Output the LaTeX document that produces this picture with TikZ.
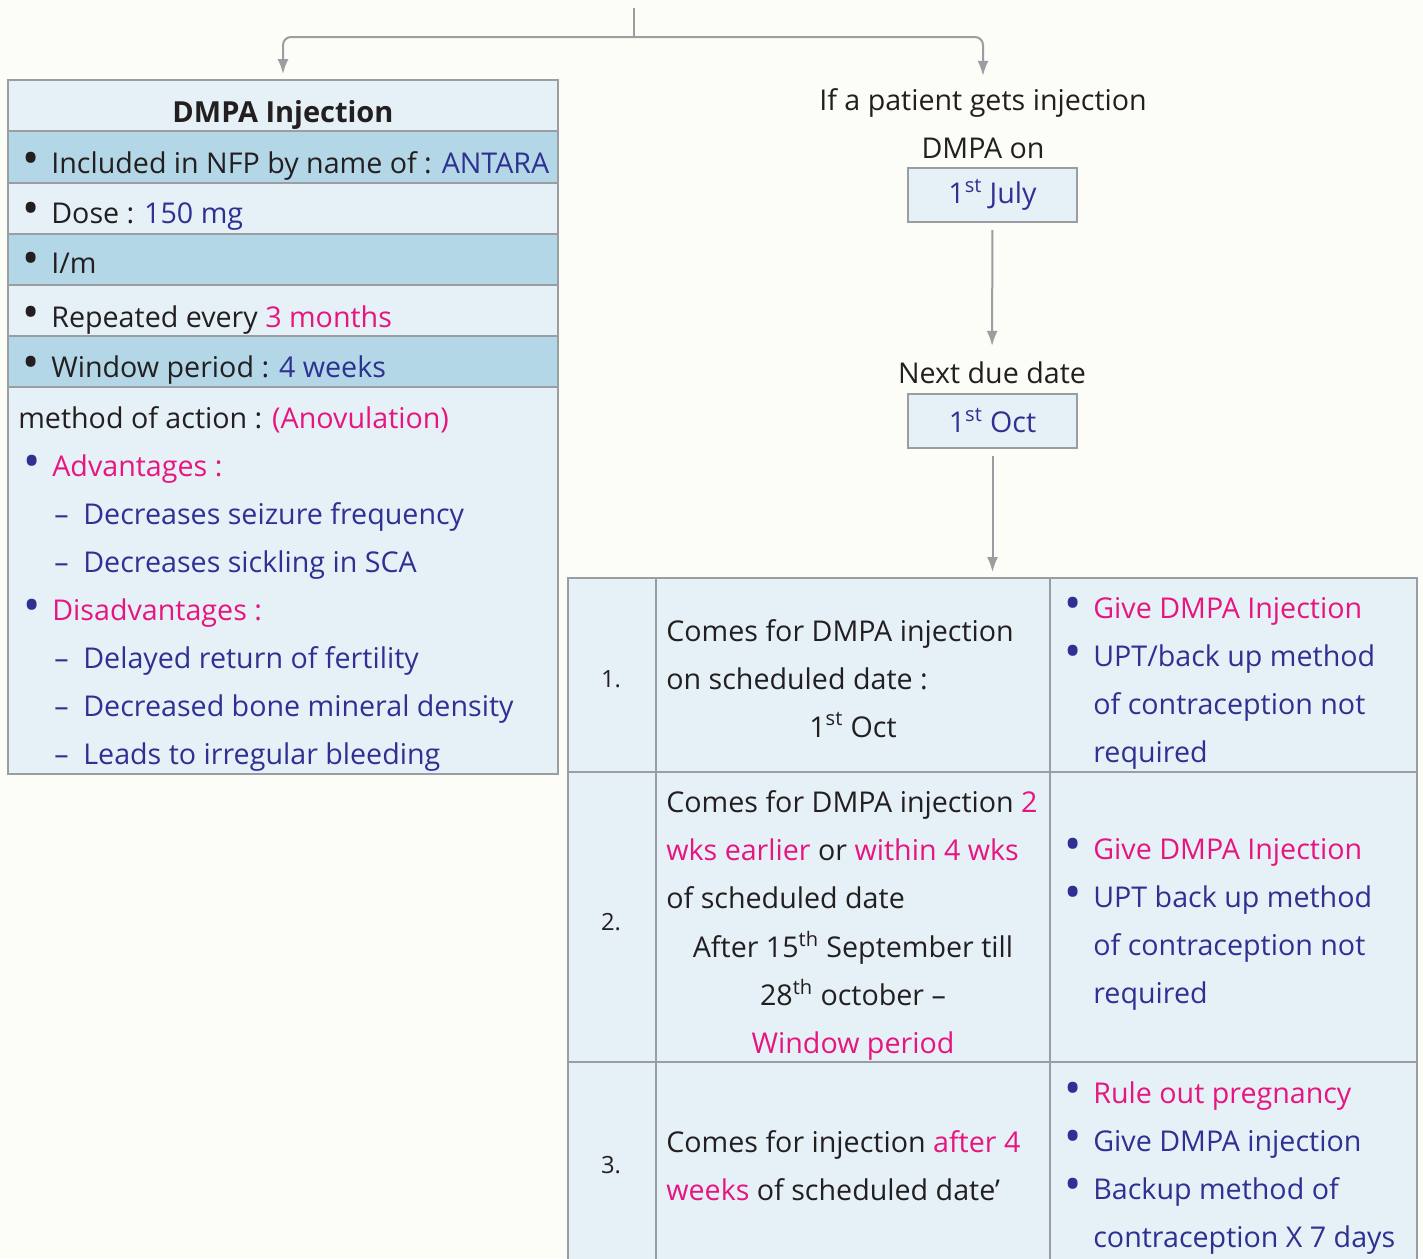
\documentclass[tikz,border=0pt]{standalone}
\usepackage{fontspec}
\setmainfont{Open Sans}
\usetikzlibrary{arrows.meta,positioning,calc}
\definecolor{cream}{HTML}{FDFDF7}
\definecolor{paleblue}{HTML}{E6F1F7}
\definecolor{midblue}{HTML}{B3D7E6}
\definecolor{rulegray}{HTML}{9A9DA1}
\definecolor{ink}{HTML}{231F20}
\definecolor{pink}{HTML}{E6157F}
\definecolor{navy}{HTML}{2E3192}
\newcommand{\pk}[1]{\textcolor{pink}{#1}}
\newcommand{\nv}[1]{\textcolor{navy}{#1}}
\newcommand{\bul}[1][ink]{\makebox[0.58cm][l]{\textcolor{#1}{\raisebox{-0.04em}{\scalebox{1.6}{\textbullet}}}}}
\newcommand{\dsh}{\makebox[0.58cm][l]{\textcolor{navy}{--}}}
\newcommand{\ind}{\hspace*{0.58cm}}
\tikzset{txt/.style={font=\fontsize{16.3}{27.3}\selectfont,text=ink,inner sep=0pt,align=left}, celltext/.style={txt,anchor=base west}, numtxt/.style={txt,anchor=base,font=\fontsize{13.5}{16}\selectfont}, panel/.style={draw=rulegray,fill=paleblue,line width=0.04cm,inner sep=0pt}, datebox/.style={panel,minimum width=3.38cm,minimum height=1.08cm,font=\fontsize{16.3}{18}\selectfont,text=navy}, gridline/.style={draw=rulegray,line width=0.04cm}, flow/.style={-{Latex[length=0.3cm,width=0.22cm]},draw=rulegray,line width=0.04cm}}

\begin{document}
\begin{tikzpicture}[x=0.02cm,y=-0.02cm]
\useasboundingbox (0,0) rectangle (1423,1258);
\fill[cream] (0,0) rectangle (1423,1258);

\node[panel,minimum width=11cm,minimum height=13.88cm] (dmpa) at (283,427) {};
\foreach \t/\b in {131/183,234/285,336/387} {\draw[gridline,fill=midblue] (8,\t) rectangle (558,\b);}
\draw[gridline] (8,131) -- (558,131);
\node[txt,anchor=base,font=\fontsize{16.5}{20}\selectfont\bfseries] (title) at (283,122) {DMPA Injection};
\node[celltext] (incl) at (22,173) {\bul Included in NFP by name of : \nv{ANTARA}};
\node[celltext] (dose) at (22,223) {\bul Dose : \nv{150 mg}};
\node[celltext] (route) at (22,273) {\bul I/m};
\node[celltext] (rep) at (22,327) {\bul Repeated every \pk{3 months}};
\node[celltext] (win) at (22,377) {\bul Window period : \nv{4 weeks}};
\node[celltext] (moa) at (18,764) {method of action : \pk{(Anovulation)}\\
\hspace*{0.1cm}\bul[navy]\pk{Advantages :}\\
\hspace*{0.72cm}\dsh\nv{Decreases seizure frequency}\\
\hspace*{0.72cm}\dsh\nv{Decreases sickling in SCA}\\
\hspace*{0.1cm}\bul[navy]\pk{Disadvantages :}\\
\hspace*{0.72cm}\dsh\nv{Delayed return of fertility}\\
\hspace*{0.72cm}\dsh\nv{Decreased bone mineral density}\\
\hspace*{0.72cm}\dsh\nv{Leads to irregular bleeding}};

\node[txt,align=center,anchor=base] (ifq) at (983,158) {If a patient gets injection\\DMPA on};
\node[datebox] (july) at (992.5,195) {1\textsuperscript{st} July};
\node[txt,anchor=base] (next) at (992,383) {Next due date};
\node[datebox] (oct) at (992.5,421) {1\textsuperscript{st} Oct};

\node[panel,minimum width=16.98cm,minimum height=14.1cm,anchor=north west] (tbl) at (567,577) {};
\foreach \x in {656,1050} {\draw[gridline] (\x,577) -- (\x,1282);}
\foreach \y in {772,1062} {\draw[gridline] (567,\y) -- (1416,\y);}

\node[numtxt] (n1) at (611,687) {1.};
\node[numtxt] (n2) at (611,930) {2.};
\node[numtxt] (n3) at (611,1173) {3.};

\node[celltext] (m1) at (666,689) {Comes for DMPA injection\\on scheduled date :};
\node[txt,anchor=base] (m1d) at (853,737) {1\textsuperscript{st} Oct};
\node[celltext] (m2) at (666,908) {Comes for DMPA injection \pk{2}\\\pk{wks earlier} or \pk{within 4 wks}\\of scheduled date};
\node[txt,align=center,anchor=base] (m2w) at (853,1053) {After 15\textsuperscript{th} September till\\28\textsuperscript{th} october --\\\pk{Window period}};
\node[celltext] (m3) at (666,1200) {Comes for injection \pk{after 4}\\\pk{weeks} of scheduled date’};

\node[celltext] (r1) at (1064,762) {\bul[navy]\pk{Give DMPA Injection}\\\bul[navy]\nv{UPT/back up method}\\\ind\nv{of contraception not}\\\ind\nv{required}};
\node[celltext] (r2) at (1064,1003) {\bul[navy]\pk{Give DMPA Injection}\\\bul[navy]\nv{UPT back up method}\\\ind\nv{of contraception not}\\\ind\nv{required}};
\node[celltext] (r3) at (1064,1247) {\bul[navy]\pk{Rule out pregnancy}\\\bul[navy]\nv{Give DMPA injection}\\\bul[navy]\nv{Backup method of}\\\ind\nv{contraception X 7 days}};

\coordinate (stem) at (634,8);
\coordinate (split) at (634,37);
\draw[gridline] (stem) -- (split);
\draw[flow,rounded corners=0.16cm,shorten >=0.1cm] (split) -| (dmpa.north);
\draw[flow,rounded corners=0.16cm,shorten >=0.24cm] (split) -| (ifq.north);
\draw[flow,shorten <=0.14cm,shorten >=0.3cm] (july) -- (next);
\draw[flow,shorten <=0.14cm,shorten >=0.1cm] (oct) -- (oct |- tbl.north);
\end{tikzpicture}
\end{document}
